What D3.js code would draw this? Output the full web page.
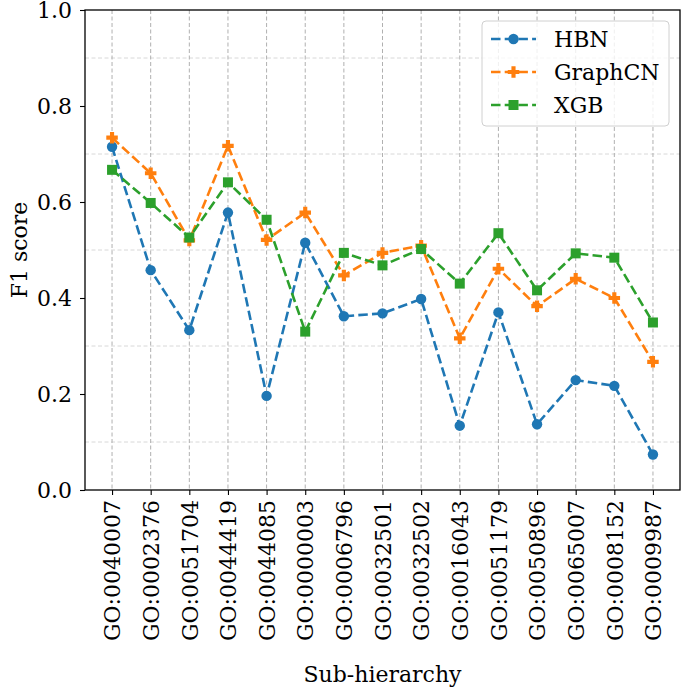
<!DOCTYPE html>
<html><head><meta charset="utf-8">
<script src="https://cdn.jsdelivr.net/npm/d3@7"></script>
<style>body{margin:0;background:#fff}svg{display:block}text{font-family:"DejaVu Serif",serif;fill:#000}</style>
</head><body><svg id="c" width="685" height="688"></svg>
<script>
const categories = ["GO:0040007","GO:0002376","GO:0051704","GO:0044419","GO:0044085","GO:0000003","GO:0006796","GO:0032501","GO:0032502","GO:0016043","GO:0051179","GO:0050896","GO:0065007","GO:0008152","GO:0009987"];
const hbn = [0.715,0.458,0.333,0.578,0.196,0.515,0.362,0.368,0.398,0.134,0.370,0.137,0.229,0.217,0.074];
const graphcn = [0.734,0.660,0.520,0.717,0.521,0.578,0.447,0.494,0.509,0.316,0.461,0.383,0.440,0.400,0.267];
const xgb = [0.667,0.598,0.526,0.641,0.563,0.330,0.494,0.468,0.502,0.430,0.535,0.416,0.493,0.484,0.349];
const seriesNames = ["HBN","GraphCN","XGB"];
const seriesColors = ["#1f77b4","#ff7f0e","#2ca02c"];
const yTicks = [0.0,0.2,0.4,0.6,0.8,1.0];
const yGrid = [0.1,0.3,0.5,0.7,0.9];

const svg = d3.select("#c");
const L=85,R=680,T=10,B=490;
const x = d3.scaleLinear().domain([-0.7,14.7]).range([L,R]);
const y = d3.scaleLinear().domain([0,1]).range([B,T]);

// grid
svg.append("g").selectAll("line").data(yGrid).join("line")
 .attr("x1",L).attr("x2",R).attr("y1",d=>y(d)).attr("y2",d=>y(d))
 .attr("stroke","#d8d8d8").attr("stroke-width",1).attr("stroke-dasharray","4,2.5");
svg.append("g").selectAll("line").data(categories).join("line")
 .attr("x1",(d,i)=>x(i)).attr("x2",(d,i)=>x(i)).attr("y1",T).attr("y2",B)
 .attr("stroke","#b0b0b0").attr("stroke-width",1).attr("stroke-dasharray","4,2.5");

// axes
const yAxis = d3.axisLeft(y).tickValues(yTicks).tickFormat(d3.format(".1f")).tickSize(5).tickPadding(8);
const gy = svg.append("g").attr("transform",`translate(${L},0)`).call(yAxis);
gy.select(".domain").remove();
gy.selectAll("text").style("font-size","22px").style("font-family","DejaVu Serif");
gy.selectAll("line").attr("stroke","#000").attr("stroke-width",1.1);

const xAxis = d3.axisBottom(x).tickValues(d3.range(categories.length)).tickFormat(i=>categories[i]).tickSize(5);
const gx = svg.append("g").attr("transform",`translate(0,${B})`).call(xAxis);
gx.select(".domain").remove();
gx.selectAll("line").attr("stroke","#000").attr("stroke-width",1.1);
gx.selectAll("text").style("font-size","22px").style("font-family","DejaVu Serif")
 .attr("transform","rotate(-90)").attr("text-anchor","end").attr("x",-10).attr("y",0).attr("dy","0.35em");

// spines
svg.append("rect").attr("x",L).attr("y",T).attr("width",R-L).attr("height",B-T)
 .attr("fill","none").attr("stroke","#000").attr("stroke-width",1.3);

// lines
const data=[hbn,graphcn,xgb];
const line = d3.line().x((d,i)=>x(i)).y(d=>y(d));
const plusPath = s=>{const a=s*0.18,b=s/2;return `M${-a},${-b}H${a}V${-a}H${b}V${a}H${a}V${b}H${-a}V${a}H${-b}V${-a}H${-a}Z`;};
function marker(g,k,cx,cy,c){
  if(k===0) g.append("circle").attr("cx",cx).attr("cy",cy).attr("r",5.2).attr("fill",c);
  else if(k===1) g.append("path").attr("d",plusPath(11.5)).attr("transform",`translate(${cx},${cy})`).attr("fill",c);
  else g.append("rect").attr("x",cx-5).attr("y",cy-5).attr("width",10).attr("height",10).attr("fill",c);
}
data.forEach((s,k)=>{
  const g=svg.append("g");
  g.append("path").datum(s).attr("d",line).attr("fill","none").attr("stroke",seriesColors[k])
   .attr("stroke-width",2.6).attr("stroke-dasharray","9.5,4.2");
  s.forEach((v,i)=>marker(g,k,x(i),y(v),seriesColors[k]));
});

// legend
const lg=svg.append("g");
lg.append("rect").attr("x",482).attr("y",21).attr("width",187).attr("height",105).attr("rx",4)
 .attr("fill","rgba(255,255,255,0.8)").attr("stroke","#d0d0d0").attr("stroke-width",1);
seriesNames.forEach((n,k)=>{
  const cy=39+k*33;
  lg.append("line").attr("x1",491).attr("x2",536).attr("y1",cy).attr("y2",cy)
   .attr("stroke",seriesColors[k]).attr("stroke-width",2.6).attr("stroke-dasharray","9.5,4.2");
  marker(lg,k,513.5,cy,seriesColors[k]);
  lg.append("text").attr("x",554).attr("y",cy).attr("dy","0.35em").style("font-size","22px").text(n);
});

// labels
svg.append("text").attr("x",(L+R)/2).attr("y",682).attr("text-anchor","middle").style("font-size","22px").text("Sub-hierarchy");
svg.append("text").attr("transform",`translate(27,${(T+B)/2}) rotate(-90)`).attr("text-anchor","middle").style("font-size","22px").text("F1 score");
</script></body></html>
